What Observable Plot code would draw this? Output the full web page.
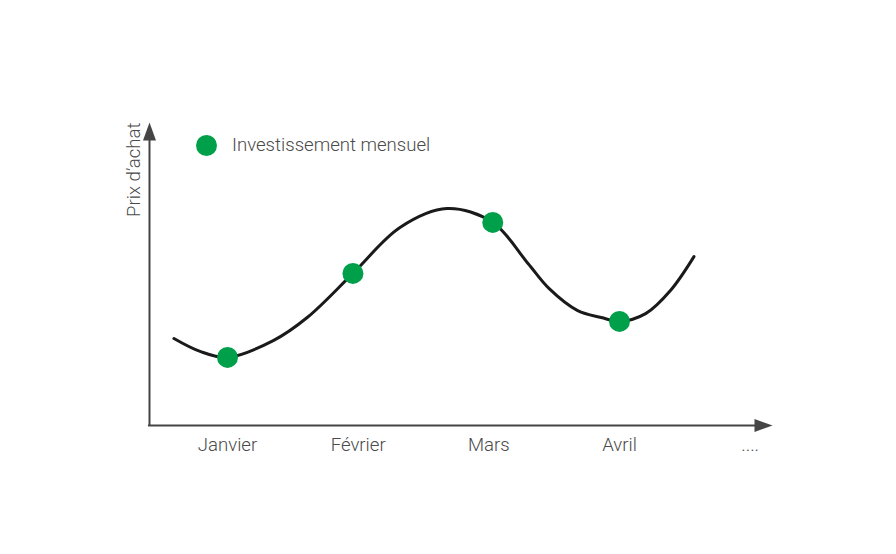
<!DOCTYPE html>
<html>
<head>
<meta charset="utf-8">
<script src="https://cdn.jsdelivr.net/npm/d3@7"></script>
<script src="https://cdn.jsdelivr.net/npm/@observablehq/plot@0.6"></script>
<style>
  html, body { margin: 0; padding: 0; background: #fff; }
  #wrap { position: relative; width: 896px; height: 554px; font-family: Roboto, "Open Sans", sans-serif; }
  #legend { position: absolute; left: 196px; top: 134px; display: flex; align-items: center; color: #4a4a4a; font-size: 18.6px; font-weight: 300; }
  #legend .sw { width: 21px; height: 21px; border-radius: 50%; background: #00a04b; margin-right: 15px; }
</style>
</head>
<body>
<div id="wrap"><div id="legend"><span class="sw"></span><span id="legendText"></span></div></div>
<script>
// Month positions (1 = Janvier ... 5 = "....") and price in arbitrary units
const curveMonth = [0.59, 0.79, 1.0, 1.35, 1.61, 1.96, 2.32, 2.68, 3.03, 3.30, 3.46, 3.68, 3.86, 4.0, 4.2, 4.39, 4.57];
const curvePrice = [2.9, 2.47, 2.27, 2.83, 3.6, 5.07, 6.6, 7.23, 6.77, 5.4, 4.57, 3.83, 3.6, 3.47, 3.73, 4.5, 5.63];
const buyMonth = [1.0, 1.96, 3.03, 4.0];
const buyPrice = [2.27, 5.07, 6.77, 3.47];
const tickMonths = [1, 2, 3, 4, 5];
const tickLabels = ["Janvier", "Février", "Mars", "Avril", "...."];
const xDomain = [0.403, 5.171];
const yDomain = [0, 10.1];
const yLabel = "Prix d\u2019achat";
const legendLabel = "Investissement mensuel";

document.getElementById("legendText").textContent = legendLabel;

const curve = curveMonth.map((m, i) => ({month: m, price: curvePrice[i]}));
const buys = buyMonth.map((m, i) => ({month: m, price: buyPrice[i]}));

const arrowHead = {
  draw(ctx) {
    ctx.moveTo(0, 0);
    ctx.lineTo(6.5, 18);
    ctx.lineTo(-6.5, 18);
    ctx.closePath();
  }
};

const axisColor = "#454545";
const textColor = "#4a4a4a";

const chart = Plot.plot({
  width: 896,
  height: 554,
  marginLeft: 149,
  marginRight: 124,
  marginTop: 122,
  marginBottom: 129,
  style: {fontFamily: "Roboto, 'Open Sans', sans-serif", background: "transparent"},
  x: {domain: xDomain, type: "linear"},
  y: {domain: yDomain, axis: null},
  marks: [
    Plot.axisX({ticks: tickMonths, tickFormat: (d) => tickLabels[tickMonths.indexOf(d)], tickSize: 0, tickPadding: 12, fontSize: 18.6, fill: textColor, fontWeight: 300, label: null}),
    // axes lines
    Plot.ruleX([xDomain[0]], {y1: yDomain[0], y2: yDomain[1] - 0.4, stroke: axisColor, strokeWidth: 2}),
    Plot.ruleY([yDomain[0]], {x1: xDomain[0] - 0.008, x2: xDomain[1] - 0.09, stroke: axisColor, strokeWidth: 2}),
    Plot.dot([{x: xDomain[0], y: yDomain[1]}], {x: "x", y: "y", symbol: arrowHead, r: 5, fill: axisColor, stroke: "none"}),
    Plot.dot([{x: xDomain[1], y: yDomain[0]}], {x: "x", y: "y", symbol: arrowHead, r: 5, fill: axisColor, stroke: "none", rotate: 90}),
    // y label
    Plot.text([yLabel], {frameAnchor: "top-left", text: (d) => d, rotate: -90, textAnchor: "end", dx: -23, fontSize: 18.6, fill: textColor, fontWeight: 300}),
    // price curve
    Plot.line(curve, {x: "month", y: "price", curve: "catmull-rom", stroke: "#1a1a1a", strokeWidth: 3}),
    // monthly investments
    Plot.dot(buys, {x: "month", y: "price", r: 10.5, fill: "#00a04b", stroke: "none"})
  ]
});
document.getElementById("wrap").prepend(chart);
chart.style.position = "absolute";
chart.style.left = "0";
chart.style.top = "0";
</script>
</body>
</html>
